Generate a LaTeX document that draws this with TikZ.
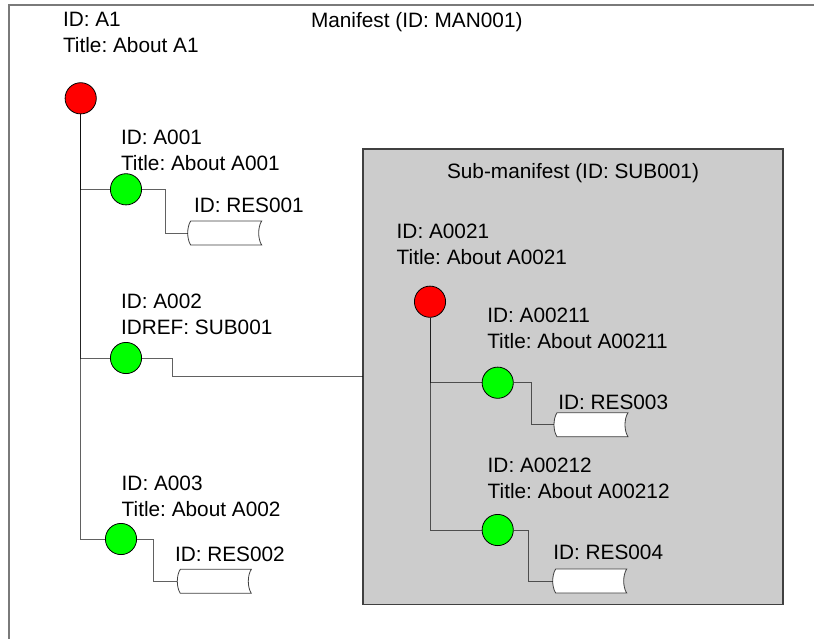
\documentclass[tikz,border=0pt]{standalone}
\usepackage{fontspec}
\setmainfont{Liberation Sans}
\frenchspacing
\definecolor{boxgray}{HTML}{CCCCCC}
\definecolor{framegray}{HTML}{7A7A7A}
\newcommand{\drawres}[1]{%
  \draw[resline] ([xshift=3pt]#1.north west) -- (#1.north east)
    .. controls +(-4,6) and +(-4,-6) .. (#1.south east)
    -- ([xshift=3pt]#1.south west)
    .. controls +(-4,-6) and +(-4,6) .. ([xshift=3pt]#1.north west) -- cycle;}
\begin{document}
\begin{tikzpicture}[x=1pt,y=-1pt,
  lbl/.style={inner sep=0pt, outer sep=0pt, align=left, anchor=north west,
    font=\fontsize{20.8}{25.5}\selectfont\frenchspacing, text=black},
  dot/.style={circle, draw=black, line width=0.8pt, minimum size=31.2pt, inner sep=0pt},
  rootdot/.style={dot, fill=red},
  itemdot/.style={dot, fill=green},
  res/.style={rectangle, minimum width=74pt, minimum height=24pt, inner sep=0pt, outer sep=0pt},
  resline/.style={draw=black!75, line width=0.8pt, fill=white},
  conn/.style={draw=black, draw opacity=0.62, line width=0.9pt},
  subbox/.style={rectangle, draw=black!75, line width=1.5pt, fill=boxgray,
    minimum width=420pt, minimum height=455.3pt, inner sep=0pt, outer sep=0pt},
  frame/.style={draw=framegray, line width=1.6pt},
]
\useasboundingbox (0,0) rectangle (814,638);
\clip (0,0) rectangle (814,638);
\draw[frame] (9,5) rectangle (840,660);

% sub-manifest box
\node[subbox] (box) at (573,376.7) {};

% circles
\node[rootdot] (a1) at (80.7,98.3) {};
\node[itemdot] (g1) at (126,189.3) {};
\node[itemdot] (g2) at (126,358) {};
\node[itemdot] (g3) at (121,539) {};
\node[rootdot] (a21) at (430,301.7) {};
\node[itemdot] (g211) at (497.7,382.7) {};
\node[itemdot] (g212) at (497.7,530) {};

% resources
\node[res] (r1) at (224.7,233) {};
\node[res] (r2) at (214.3,581.3) {};
\node[res] (r3) at (591,424.7) {};
\node[res] (r4) at (589.7,581) {};
\drawres{r1}
\drawres{r2}
\drawres{r3}
\drawres{r4}

% connectors
\draw[conn] (a1) |- (g1);
\draw[conn] (a1) |- (g2);
\draw[conn] (a1) |- (g3);
\draw[conn] (g1.east) -- ++(23.4,0) |- (r1.west);
\draw[conn] (g2.east) -- ++(30.7,0) |- (box.west);
\draw[conn] (g3.east) -- ++(16.1,0) |- (r2.west);
\draw[conn] (a21) |- (g211);
\draw[conn] (a21) |- (g212);
\draw[conn] (g211.east) -- ++(17.7,0) |- (r3.west);
\draw[conn] (g212.east) -- ++(14.9,0) |- (r4.west);

% labels
\node[lbl] (ta1) at (63,12.5) {ID: A1\\Title: About A1};
\node[lbl] (tman) at (311,12.5) {Manifest (ID: MAN001)};
\node[lbl] (ta001) at (121,130) {ID: A001\\Title: About A001};
\node[lbl] (tres1) at (194,198.3) {ID: RES001};
\node[lbl] (ta002) at (121,294) {ID: A002\\IDREF: SUB001};
\node[lbl] (ta003) at (121.7,476) {ID: A003\\Title: About A002};
\node[lbl] (tres2) at (175,546.7) {ID: RES002};
\node[lbl, anchor=north] (tsub) at (573,163.3) {Sub-manifest (ID: SUB001)};
\node[lbl] (ta0021) at (396.7,224.3) {ID: A0021\\Title: About A0021};
\node[lbl] (ta00211) at (487.3,308.3) {ID: A00211\\Title: About A00211};
\node[lbl] (tres3) at (558.3,395) {ID: RES003};
\node[lbl] (ta00212) at (487.7,458) {ID: A00212\\Title: About A00212};
\node[lbl] (tres4) at (553.3,545) {ID: RES004};
\end{tikzpicture}
\end{document}
